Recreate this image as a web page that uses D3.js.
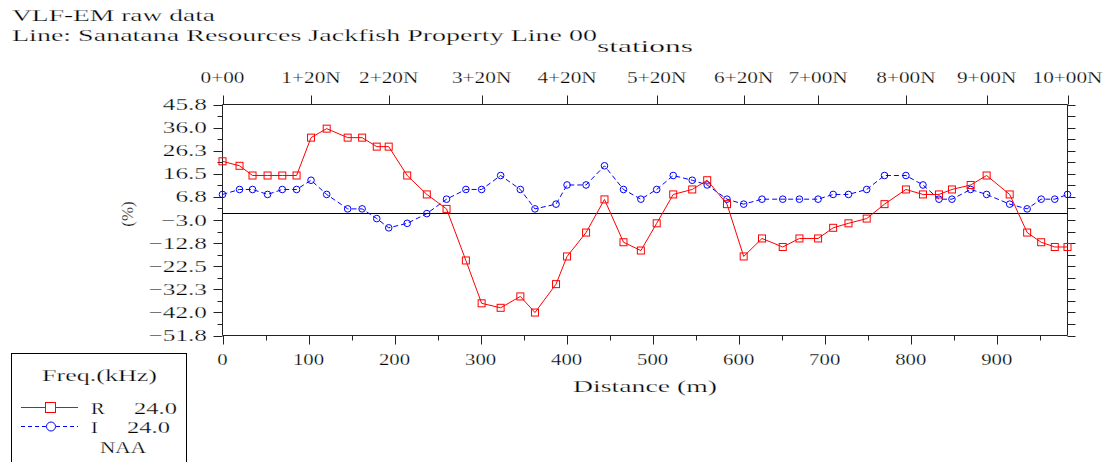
<!DOCTYPE html>
<html>
<head>
<meta charset="utf-8">
<script src="https://cdn.jsdelivr.net/npm/d3@7"></script>
<style>
  html, body { margin: 0; padding: 0; background: #fff; }
  svg { display: block; }
  text { font-family: "Liberation Serif", "DejaVu Serif", serif; fill: #000; stroke: #fff; stroke-width: 0.25px; }
</style>
</head>
<body>
<svg id="chart" width="1107" height="462"></svg>
<script>
// ---- data ----
const distances = [0, 19.8, 34.9, 52.4, 69.5, 86.1, 102.9, 121.1, 145.5, 162.3,
  179.3, 193.2, 214.7, 237.5, 260.4, 282.9, 301.2, 323.3, 346.2, 363.2,
  387.7, 400.5, 422.6, 444.0, 466.1, 486.3, 504.7, 523.9, 546.0, 563.4,
  586.4, 605.8, 627.1, 651.2, 670.6, 692.3, 709.8, 727.6, 748.8, 769.5,
  794.4, 814.2, 832.8, 847.9, 869.6, 888.2, 915.0, 935.3, 951.6, 967.4, 982.2];
const rValues = [21.8, 19.9, 15.8, 15.8, 15.8, 15.8, 31.8, 35.6, 31.8, 31.8,
  28.0, 28.0, 15.8, 7.8, 1.7, -20.1, -38.2, -40.1, -35.3, -42.1,
  -30.1, -18.4, -8.3, 5.7, -12.4, -15.9, -4.4, 7.8, 9.9, 13.8,
  3.7, -18.4, -10.8, -14.4, -10.8, -10.8, -6.3, -4.4, -2.4, 3.7,
  9.9, 7.8, 7.8, 9.9, 11.8, 15.8, 7.8, -8.3, -12.4, -14.4, -14.4];
const iValues = [7.8, 9.9, 9.9, 7.8, 9.9, 9.9, 13.8, 7.8, 1.7, 1.7,
  -2.4, -6.3, -4.4, -0.3, 5.8, 9.9, 9.9, 15.8, 9.9, 1.7,
  3.7, 11.8, 11.8, 19.9, 9.9, 5.8, 9.9, 15.8, 13.8, 11.8,
  5.8, 3.7, 5.8, 5.8, 5.8, 5.8, 7.8, 7.8, 9.9, 15.8,
  15.8, 11.8, 5.8, 5.8, 9.9, 7.8, 3.7, 1.7, 5.8, 5.8, 7.8];
const topTickIndex = [0, 6, 11, 16, 21, 26, 31, 35, 40, 45, 50];
const topTickLabels = ["0+00", "1+20N", "2+20N", "3+20N", "4+20N", "5+20N",
  "6+20N", "7+00N", "8+00N", "9+00N", "10+00N"];
const yTickValues = [45.8, 36.0, 26.3, 16.5, 6.8, -3.0, -12.8, -22.5, -32.3, -42.0, -51.8];
const xTickValues = [0, 100, 200, 300, 400, 500, 600, 700, 800, 900];
const xMinorValues = [50, 150, 250, 350, 450, 550, 650, 750, 850, 950];
const legendItems = [
  { key: "R", freq: "24.0" },
  { key: "I", freq: "24.0" }
];
const stationName = "NAA";

// ---- layout ----
const svg = d3.select("#chart");
const x = d3.scaleLinear().domain([0, distances[distances.length - 1]]).range([222.5, 1067.5]);
const y = d3.scaleLinear().domain([-51.8, 45.8]).range([335.5, 104.5]);
const RED = "#ff0000", BLUE = "#0000ff", AX = "#222";

function stretch(sel, f) {
  sel.each(function () {
    const w = this.getComputedTextLength();
    d3.select(this).attr("textLength", w * f).attr("lengthAdjust", "spacingAndGlyphs");
  });
}
function fitTo(sel, w) {
  sel.attr("textLength", w).attr("lengthAdjust", "spacingAndGlyphs");
}

// titles
fitTo(svg.append("text").attr("x", 12).attr("y", 21).attr("font-size", 17).text("VLF-EM raw data"), 203);
fitTo(svg.append("text").attr("x", 12).attr("y", 41).attr("font-size", 17)
  .text("Line: Sanatana Resources Jackfish Property Line 00"), 585);
fitTo(svg.append("text").attr("x", 597).attr("y", 52).attr("font-size", 17).text("stations"), 96);

// frame lines
const [x0, x1] = x.range();
const [yb, yt] = y.range();
svg.append("line").attr("x1", x0).attr("x2", x1).attr("y1", yt).attr("y2", yt).attr("stroke", AX);
svg.append("line").attr("x1", x0).attr("x2", x1).attr("y1", yb).attr("y2", yb).attr("stroke", AX);
svg.append("line").attr("x1", x0).attr("x2", x0).attr("y1", yt).attr("y2", yb).attr("stroke", AX);
svg.append("line").attr("x1", x1).attr("x2", x1).attr("y1", yt).attr("y2", yb).attr("stroke", AX);

// top station axis
const topG = svg.append("g");
topG.selectAll("line").data(topTickIndex).join("line")
  .attr("x1", d => Math.round(x(distances[d])) + 0.5).attr("x2", d => Math.round(x(distances[d])) + 0.5)
  .attr("y1", yt).attr("y2", yt - 9).attr("stroke", AX);
const topT = topG.selectAll("text").data(topTickIndex).join("text")
  .attr("x", d => x(distances[d])).attr("y", 83).attr("text-anchor", "middle")
  .attr("font-size", 16).text((d, i) => topTickLabels[i]);
stretch(topT, 1.33);

// bottom axis
const botG = svg.append("g");
botG.selectAll("line.maj").data(xTickValues).join("line").attr("class", "maj")
  .attr("x1", d => Math.round(x(d)) + 0.5).attr("x2", d => Math.round(x(d)) + 0.5)
  .attr("y1", yb).attr("y2", yb + 9).attr("stroke", AX);
botG.selectAll("line.min").data(xMinorValues).join("line").attr("class", "min")
  .attr("x1", d => Math.round(x(d)) + 0.5).attr("x2", d => Math.round(x(d)) + 0.5)
  .attr("y1", yb).attr("y2", yb + 5).attr("stroke", AX);
const botT = botG.selectAll("text").data(xTickValues).join("text")
  .attr("x", d => x(d)).attr("y", 365).attr("text-anchor", "middle")
  .attr("font-size", 16).text(d => d);
stretch(botT, 1.3);
fitTo(svg.append("text").attr("x", 573).attr("y", 392).attr("font-size", 17).text("Distance (m)"), 144);

// left & right axes
const yMinor = d3.pairs(yTickValues).map(p => (p[0] + p[1]) / 2);
const leftG = svg.append("g");
leftG.selectAll("line.maj").data(yTickValues).join("line").attr("class", "maj")
  .attr("x1", x0 - 9).attr("x2", x0).attr("y1", d => Math.round(y(d)) + 0.5).attr("y2", d => Math.round(y(d)) + 0.5)
  .attr("stroke", AX);
leftG.selectAll("line.min").data(yMinor).join("line").attr("class", "min")
  .attr("x1", x0 - 5).attr("x2", x0).attr("y1", d => Math.round(y(d)) + 0.5).attr("y2", d => Math.round(y(d)) + 0.5)
  .attr("stroke", AX);
svg.append("g").selectAll("line").data(yTickValues.concat(yMinor)).join("line")
  .attr("x1", x1).attr("x2", x1 + 8).attr("y1", d => Math.round(y(d)) + 0.5).attr("y2", d => Math.round(y(d)) + 0.5)
  .attr("stroke", AX);
const leftT = leftG.selectAll("text").data(yTickValues).join("text")
  .attr("x", 207).attr("y", d => y(d) + 5.5).attr("text-anchor", "end")
  .attr("font-size", 16).text(d => d3.format(".1f")(d).replace("-", "\u2212"));
stretch(leftT, 1.58);
svg.append("text").attr("transform", "translate(133,214) rotate(-90)")
  .attr("text-anchor", "middle").attr("font-size", 17).text("(%)");

// zero line
svg.append("line").attr("x1", x0).attr("x2", x1)
  .attr("y1", Math.round(y(0)) + 0.5).attr("y2", Math.round(y(0)) + 0.5)
  .attr("stroke", "#000").attr("stroke-width", 1.2);

// series
const rData = distances.map((d, i) => [d, rValues[i]]);
const iData = distances.map((d, i) => [d, iValues[i]]);
const line = d3.line().x(d => x(d[0])).y(d => y(d[1]));
svg.append("path").datum(iData).attr("d", line).attr("fill", "none")
  .attr("stroke", BLUE).attr("stroke-width", 1).attr("stroke-dasharray", "5,3");
svg.append("g").selectAll("circle").data(iData).join("circle")
  .attr("cx", d => x(d[0])).attr("cy", d => y(d[1])).attr("r", 3.3)
  .attr("fill", "none").attr("stroke", BLUE).attr("stroke-width", 1);
svg.append("path").datum(rData).attr("d", line).attr("fill", "none")
  .attr("stroke", RED).attr("stroke-width", 1);
svg.append("g").selectAll("rect").data(rData).join("rect")
  .attr("x", d => x(d[0]) - 3.5).attr("y", d => y(d[1]) - 3.5).attr("width", 7).attr("height", 7)
  .attr("fill", "none").attr("stroke", RED).attr("stroke-width", 1);

// legend
const lg = svg.append("g");
lg.append("rect").attr("x", 11.5).attr("y", 353.5).attr("width", 175).attr("height", 120)
  .attr("fill", "none").attr("stroke", "#000");
fitTo(lg.append("text").attr("x", 42).attr("y", 381).attr("font-size", 17).text("Freq.(kHz)"), 115);
const ly = [407, 426];
legendItems.forEach((it, i) => {
  const col = i === 0 ? RED : BLUE;
  lg.append("line").attr("x1", 21).attr("x2", 78).attr("y1", ly[i] + 0.5).attr("y2", ly[i] + 0.5)
    .attr("stroke", col).attr("stroke-dasharray", i === 0 ? null : "4,3");
  if (i === 0) {
    lg.append("rect").attr("x", 45.5).attr("y", ly[i] - 4.5).attr("width", 10).attr("height", 10)
      .attr("fill", "#fff").attr("stroke", col);
  } else {
    lg.append("circle").attr("cx", 51).attr("cy", ly[i] + 0.5).attr("r", 4.5)
      .attr("fill", "#fff").attr("stroke", col);
  }
  const t1 = lg.append("text").attr("x", 91).attr("y", ly[i] + 6.5).attr("font-size", 17).text(it.key);
  stretch(t1, 1.2);
  fitTo(lg.append("text").attr("x", i === 0 ? 177 : 170).attr("y", ly[i] + 6.5).attr("text-anchor", "end")
    .attr("font-size", 17).text(it.freq), 43);
});
fitTo(lg.append("text").attr("x", 100).attr("y", 453).attr("font-size", 17).text(stationName), 46);
</script>
</body>
</html>
